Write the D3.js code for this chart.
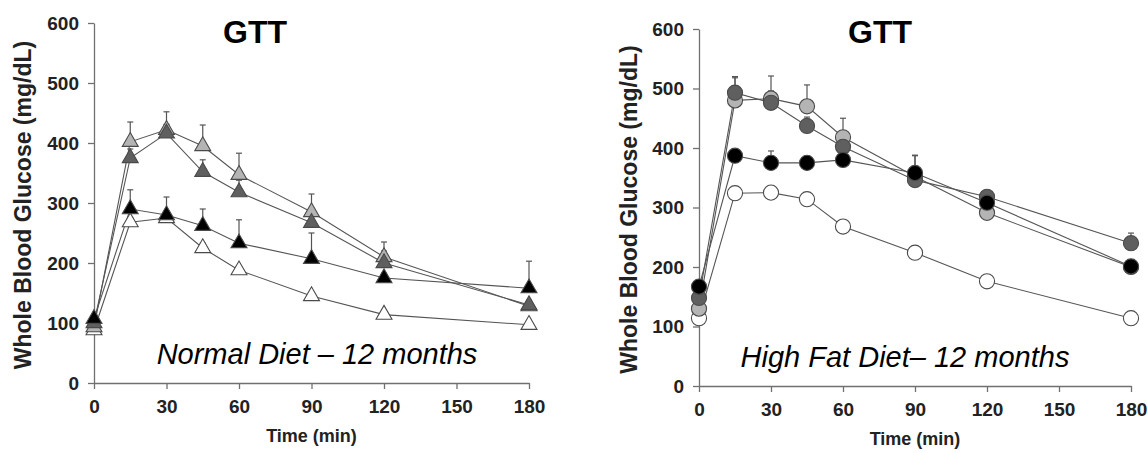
<!DOCTYPE html>
<html>
<head>
<meta charset="utf-8">
<script src="https://d3js.org/d3.v7.min.js"></script>
<style>
    body { margin: 0; background: #fff; }
    text { font-family: "Liberation Sans", Arial, sans-serif; }
</style>
</head>
<body>
<script>
// time points (min) shared by both panels
var times = [0, 15, 30, 45, 60, 90, 120, 180];
var xTicks = [0, 30, 60, 90, 120, 150, 180];
var yTicks = [0, 100, 200, 300, 400, 500, 600];

// Normal diet - 12 months (triangles)
var ndWhite = [88, 268, 275, 225, 188, 145, 114, 97];
var ndLight = [93, 402, 422, 395, 347, 285, 210, 128];
var ndDark = [100, 375, 416, 352, 318, 267, 200, 130];
var ndBlack = [107, 290, 280, 262, 233, 207, 175, 158];
var ndWhiteSem = [3, 8, 8, 8, 6, 6, 5, 5];
var ndLightSem = [5, 33, 30, 35, 36, 30, 25, 8];
var ndDarkSem = [5, 15, 15, 20, 20, 20, 20, 8];
var ndBlackSem = [5, 32, 30, 28, 39, 43, 8, 45];

// High fat diet - 12 months (circles)
var hfWhite = [114, 324, 325, 314, 268, 224, 176, 114];
var hfLight = [130, 480, 483, 470, 418, 352, 291, 200];
var hfDark = [148, 493, 476, 437, 402, 346, 318, 240];
var hfBlack = [167, 387, 375, 375, 380, 358, 308, 201];
var hfWhiteSem = [3, 5, 5, 5, 5, 5, 10, 3];
var hfLightSem = [5, 40, 38, 36, 32, 35, 10, 8];
var hfDarkSem = [5, 25, 20, 15, 15, 15, 10, 17];
var hfBlackSem = [5, 10, 20, 8, 8, 30, 10, 8];

var fills = ["#ffffff", "#b4b4b4", "#5f5f5f", "#000000"];

window.onload = function() {
    var w = 1147, h = 453;

    var svg = d3.select("body")
        .append("svg")
        .attr("width", w)
        .attr("height", h);

    // one panel = axes + 4 series
    function drawPanel(opt) {
        var x = d3.scaleLinear().domain([0, 180]).range(opt.xRange);
        var y = d3.scaleLinear().domain([0, 600]).range(opt.yRange);
        var g = svg.append("g");

        g.append("g")
            .attr("transform", "translate(" + opt.xRange[0] + ",0)")
            .call(d3.axisLeft(y).tickValues(yTicks).tickSize(6).tickPadding(9).tickSizeOuter(0));
        g.append("g")
            .attr("transform", "translate(0," + opt.yRange[0] + ")")
            .call(d3.axisBottom(x).tickValues(xTicks).tickSize(6).tickPadding(11).tickSizeOuter(0));

        g.selectAll(".domain, .tick line")
            .attr("stroke", "#707070")
            .attr("stroke-width", 1.3);
        g.selectAll(".tick text")
            .attr("fill", "#222")
            .style("font-size", "19px")
            .style("font-weight", "bold")
            .style("font-family", "'Liberation Sans', Arial, sans-serif");

        // axis titles
        g.append("text")
            .attr("transform", "translate(" + opt.yTitleX + "," + ((opt.yRange[0] + opt.yRange[1]) / 2 + 2) + ") rotate(-90)")
            .attr("text-anchor", "middle")
            .attr("dy", "0.35em")
            .style("font-size", "23px")
            .style("font-weight", "bold")
            .attr("fill", "#222")
            .text("Whole Blood Glucose (mg/dL)");
        g.append("text")
            .attr("x", (opt.xRange[0] + opt.xRange[1]) / 2)
            .attr("y", opt.yRange[0] + 59)
            .attr("text-anchor", "middle")
            .style("font-size", "18px")
            .style("font-weight", "bold")
            .attr("fill", "#222")
            .text("Time (min)");

        // GTT heading + diet label
        g.append("text")
            .attr("x", opt.gttX)
            .attr("y", 43)
            .attr("text-anchor", "middle")
            .style("font-size", "32px")
            .style("font-weight", "bold")
            .text("GTT");
        g.append("text")
            .attr("x", opt.noteX)
            .attr("y", opt.yRange[0] - 19)
            .attr("text-anchor", "middle")
            .style("font-size", "29px")
            .style("font-style", "italic")
            .text(opt.note);

        var line = d3.line()
            .x(function(d) { return x(d.t); })
            .y(function(d) { return y(d.v); });

        var series = opt.series.map(function(s, i) {
            return times.map(function(t, j) {
                return { t: t, v: s[j], e: opt.sems[i][j], fill: fills[i] };
            });
        });

        // connecting lines
        g.selectAll(".line")
            .data(series)
            .enter()
            .append("path")
            .attr("class", "line")
            .attr("d", line)
            .attr("fill", "none")
            .attr("stroke", "#555")
            .attr("stroke-width", 1.1);

        // error bars (upper only), then markers
        series.forEach(function(s) {
            var eb = g.append("g").selectAll("g")
                .data(s)
                .enter()
                .append("g")
                .attr("stroke", "#555")
                .attr("stroke-width", 1.2);
            eb.append("line")
                .attr("x1", function(d) { return x(d.t); })
                .attr("x2", function(d) { return x(d.t); })
                .attr("y1", function(d) { return y(d.v); })
                .attr("y2", function(d) { return y(d.v + d.e); });
            eb.append("line")
                .attr("x1", function(d) { return x(d.t) - 3; })
                .attr("x2", function(d) { return x(d.t) + 3; })
                .attr("y1", function(d) { return y(d.v + d.e); })
                .attr("y2", function(d) { return y(d.v + d.e); });
        });
        series.forEach(function(s) {
            g.append("g").selectAll("path")
                .data(s)
                .enter()
                .append("path")
                .attr("d", d3.symbol().type(opt.symbol).size(opt.symbolSize))
                .attr("transform", function(d) { return "translate(" + x(d.t) + "," + y(d.v) + ")"; })
                .attr("fill", function(d) { return d.fill; })
                .attr("stroke", "#4a4a4a")
                .attr("stroke-width", 1.1);
        });
    }

    drawPanel({
        xRange: [94, 529], yRange: [383, 23],
        yTitleX: 23, gttX: 255, noteX: 317,
        note: "Normal Diet \u2013 12 months",
        series: [ndWhite, ndLight, ndDark, ndBlack],
        sems: [ndWhiteSem, ndLightSem, ndDarkSem, ndBlackSem],
        symbol: d3.symbolTriangle, symbolSize: 110
    });

    drawPanel({
        xRange: [699, 1131], yRange: [386, 29],
        yTitleX: 629, gttX: 880, noteX: 905,
        note: "High Fat Diet\u2013 12 months",
        series: [hfWhite, hfLight, hfDark, hfBlack],
        sems: [hfWhiteSem, hfLightSem, hfDarkSem, hfBlackSem],
        symbol: d3.symbolCircle, symbolSize: 180
    });
};
</script>
</body>
</html>
